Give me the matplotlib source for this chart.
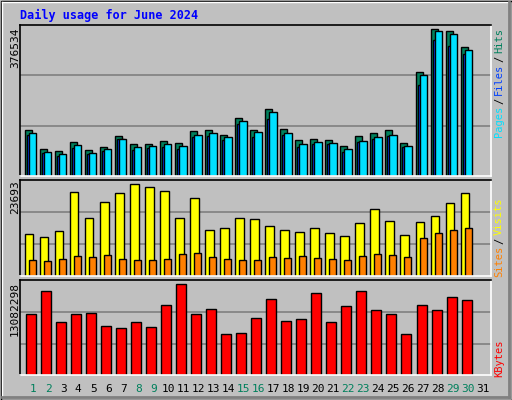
import matplotlib
matplotlib.use('Agg')
from matplotlib import pyplot as plt
from matplotlib.patches import Rectangle
import numpy as np

days = list(range(1, 32))
weekend_days = [1, 2, 8, 9, 15, 16, 22, 23, 29, 30]
hits = [117824, 69158, 64035, 87088, 66596, 74281, 102456, 81965, 81965, 89649, 84526, 115263, 117824, 105017, 148561,
        117824, 171614, 120386, 92210, 94772, 92210, 76842, 102456, 110140, 117824, 84526, 266386, 376534, 371411, 330421]
files = [105017, 58912, 51228, 71719, 56351, 64035, 94772, 66596, 71719, 74281, 69158, 99895, 102456, 92210, 133193,
         99895, 146000, 105017, 74281, 81965, 81965, 61474, 87088, 94772, 102456, 74281, 233087, 348350, 332982, 312491]
pages = [110140, 61474, 56351, 79403, 58912, 69158, 94772, 74281, 76842, 81965, 76842, 105017, 110140, 99895, 140877,
         112702, 163930, 110140, 81965, 87088, 84526, 69158, 89649, 99895, 105017, 76842, 258701, 371411, 363719, 322736]
visits = [10817, 10044, 11590, 21634, 14938, 19059, 21377, 23693, 22922, 21892, 14938, 20089, 11847, 12362, 14938,
          14680, 12878, 11847, 11332, 12362, 11075, 10302, 13650, 17256, 14165, 10560, 13908, 15453, 18801, 21377]
sites = [4121, 3863, 4378, 5151, 4893, 5409, 4378, 4121, 4121, 4378, 5666, 5924, 4893, 4378, 4121,
         4121, 4893, 4636, 5151, 4636, 4378, 4121, 5151, 5666, 5409, 4893, 9787, 11075, 11847, 12362]
kbytes = [8769, 12076, 7619, 8769, 8913, 7044, 6757, 7619, 6900, 10063, 13082, 8769, 9488, 5894, 6038,
          8194, 10926, 7763, 8051, 11788, 7619, 9919, 12076, 9344, 8769, 5894, 10063, 9344, 11213, 10782]
kbytes = [k * 1000 for k in kbytes]

W, H = 512, 400
fig = plt.figure(figsize=(W / 100, H / 100), dpi=100)
fig.patch.set_facecolor('#c0c0c0')
mono = 'DejaVu Sans Mono'

# outer frame
bg = fig.add_axes([0, 0, 1, 1])
bg.set_xlim(0, W); bg.set_ylim(H, 0); bg.axis('off')
bg.add_patch(Rectangle((0.5, 0.5), W - 1, H - 1, fill=False, ec='black', lw=1))
bg.plot([2, W - 3], [2, 2], c='white', lw=1)
bg.plot([2, 2], [2, H - 3], c='white', lw=1)
bg.plot([W - 3, W - 3], [2, H - 3], c='#808080', lw=2)
bg.plot([2, W - 3], [H - 3, H - 3], c='#808080', lw=2)


def panel(top, bottom, ymax):
    ax = fig.add_axes([20 / W, 1 - bottom / H, 471 / W, (bottom - top) / H])
    ax.set_facecolor('#c0c0c0')
    ax.set_xlim(1 - 13 / 15, 1 + 457.4 / 15)
    ax.set_ylim(0, ymax)
    for g in (ymax / 3, ymax * 2 / 3):
        ax.axhline(g, color='#808080', lw=1.2, zorder=0)
    ax.set_xticks([]); ax.set_yticks([])
    for s in ax.spines.values():
        s.set_linewidth(1.2)
    ax.spines['right'].set_color('white')
    ax.spines['bottom'].set_color('white')
    return ax


x = np.array(days[:30], dtype=float)
px = 1 / 15.0

# hits / files / pages
ax1 = panel(25, 176.3, 387625)
ax1.bar(x - 8 * px, hits, width=7 * px, align='edge', color='#00805c', ec='black', lw=1)
ax1.bar(x - 6 * px, files, width=7 * px, align='edge', color='#0040ff', ec='black', lw=1)
ax1.bar(x - 4 * px, pages, width=7.3 * px, align='edge', color='#00e0ff', ec='black', lw=1)

# visits / sites
ax2 = panel(180.3, 276.3, 24725)
ax2.bar(x - 8 * px, visits, width=8.4 * px, align='edge', color='#ffff00', ec='black', lw=1)
ax2.bar(x - 4 * px, sites, width=7 * px, align='edge', color='#ff8000', ec='black', lw=1)

# kbytes
ax3 = panel(280.3, 375.3, 13657000)
ax3.bar(x - 7 * px, kbytes, width=10 * px, align='edge', color='#ff0000', ec='black', lw=1)

fig.text(20 / W, 1 - 15 / H, 'Daily usage for June 2024', color='#0000ff', family=mono,
         fontweight='bold', fontsize=8.5, va='center')

fig.text(15 / W, 1 - 28 / H, '376534', rotation=90, family=mono, fontsize=8, ha='center', va='top')
fig.text(15 / W, 1 - 180 / H, '23693', rotation=90, family=mono, fontsize=8, ha='center', va='top')
fig.text(15 / W, 1 - 282 / H, '13082298', rotation=90, family=mono, fontsize=8, ha='center', va='top')


def side_label(parts, y_bottom):
    # stack coloured words bottom to top
    y = y_bottom
    for txt, col in parts:
        fig.text(499 / W, 1 - y / H, txt, rotation=90, family=mono, fontsize=7.5, color=col,
                 ha='center', va='bottom')
        y -= len(txt) * 6.3 + 2


side_label([('Pages', '#00e0ff'), ('/', 'black'), ('Files', '#0040ff'), ('/', 'black'), ('Hits', '#00805c')], 137)
side_label([('Sites', '#ff8000'), ('/', 'black'), ('Visits', '#ffff00')], 277)
side_label([('KBytes', '#ff0000')], 377)

for d in days:
    col = '#00805c' if d in weekend_days else 'black'
    fig.text((33.3 + (d - 1) * 15) / W, 1 - 389 / H, str(d), color=col, family=mono, fontsize=8,
             ha='center', va='center')

plt.savefig('out.png', dpi=100, facecolor=fig.get_facecolor())
plt.close('all')
